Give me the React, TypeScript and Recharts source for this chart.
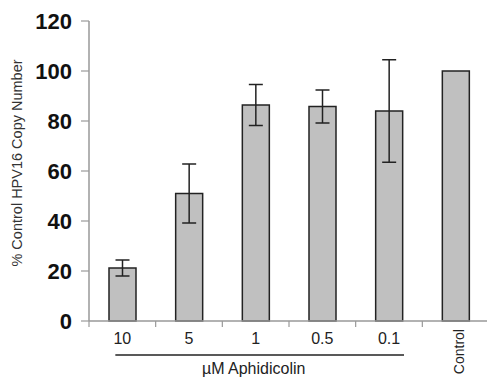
import { BarChart, Bar, XAxis, YAxis, ErrorBar } from 'recharts';

const categories = ['10', '5', '1', '0.5', '0.1', 'Control'];
const copyNumber = [21.2, 51, 86.4, 85.8, 84, 100];
const errors = [3.2, 11.8, 8.2, 6.6, 20.5, 0];
const yTicks = [0, 20, 40, 60, 80, 100, 120];
const groupLabel = 'µM Aphidicolin';
const yLabel = '% Control HPV16 Copy Number';

const chartData = categories.map((c, i) => ({
  name: c,
  value: copyNumber[i],
  err: errors[i],
}));

const FONT = 'Liberation Sans, Arial, sans-serif';

function XTick(props: any) {
  const { x, y, payload, index } = props;
  const half = payload.offset ?? 33.3;
  const isControl = payload.value === 'Control';
  return (
    <g>
      <line x1={x - half} y1={y} x2={x - half} y2={y + 6} stroke="#999" strokeWidth={1.2} />
      {isControl ? (
        <text
          x={x + 8}
          y={y + 8}
          transform={`rotate(-90, ${x + 8}, ${y + 8})`}
          textAnchor="end"
          fontSize={14}
          fontFamily={FONT}
          fill="#222"
        >
          {payload.value}
        </text>
      ) : (
        <text x={x} y={y + 23} textAnchor="middle" fontSize={16} fontFamily={FONT} fill="#222">
          {payload.value}
        </text>
      )}
      {index === 0 && (
        <g>
          <line x1={x - 7} y1={y + 34} x2={x + 8 * half + 15} y2={y + 34} stroke="#222" strokeWidth={1.5} />
          <text x={x + 4 * half - 2} y={y + 53} textAnchor="middle" fontSize={16} fontFamily={FONT} fill="#222">
            {groupLabel}
          </text>
        </g>
      )}
    </g>
  );
}

function YLabel(props: any) {
  const { viewBox } = props;
  const cx = 22;
  const cy = viewBox.y + viewBox.height / 2 - 8;
  return (
    <text
      x={cx}
      y={cy}
      transform={`rotate(-90, ${cx}, ${cy})`}
      textAnchor="middle"
      fontSize={14.5}
      fontFamily={FONT}
      fill="#333"
    >
      {yLabel}
    </text>
  );
}

export default function App() {
  return (
    <div style={{ position: 'absolute', left: 0, top: 0, width: 487, height: 379, background: '#fff', overflow: 'hidden' }}>
      <BarChart
        width={489}
        height={379}
        data={chartData}
        margin={{ top: 21, right: 0, left: 0, bottom: 0 }}
        barSize={27}
      >
        <XAxis
          dataKey="name"
          height={58}
          interval={0}
          tickSize={0}
          tickMargin={0}
          tickLine={false}
          axisLine={{ stroke: '#999', strokeWidth: 1.5 }}
          tick={<XTick />}
        />
        <YAxis
          width={89}
          domain={[0, 120]}
          ticks={yTicks}
          interval={0}
          tickSize={8}
          tickMargin={9}
          axisLine={{ stroke: '#999', strokeWidth: 1.5 }}
          tickLine={{ stroke: '#999', strokeWidth: 1.2 }}
          tick={{ fontSize: 22, fontWeight: 'bold', fontFamily: FONT, fill: '#111' }}
          label={<YLabel />}
        />
        <Bar dataKey="value" fill="#c0c0c0" stroke="#222" strokeWidth={1.5} isAnimationActive={false}>
          <ErrorBar dataKey="err" width={7} stroke="#222" strokeWidth={1.5} direction="y" />
        </Bar>
      </BarChart>
    </div>
  );
}
